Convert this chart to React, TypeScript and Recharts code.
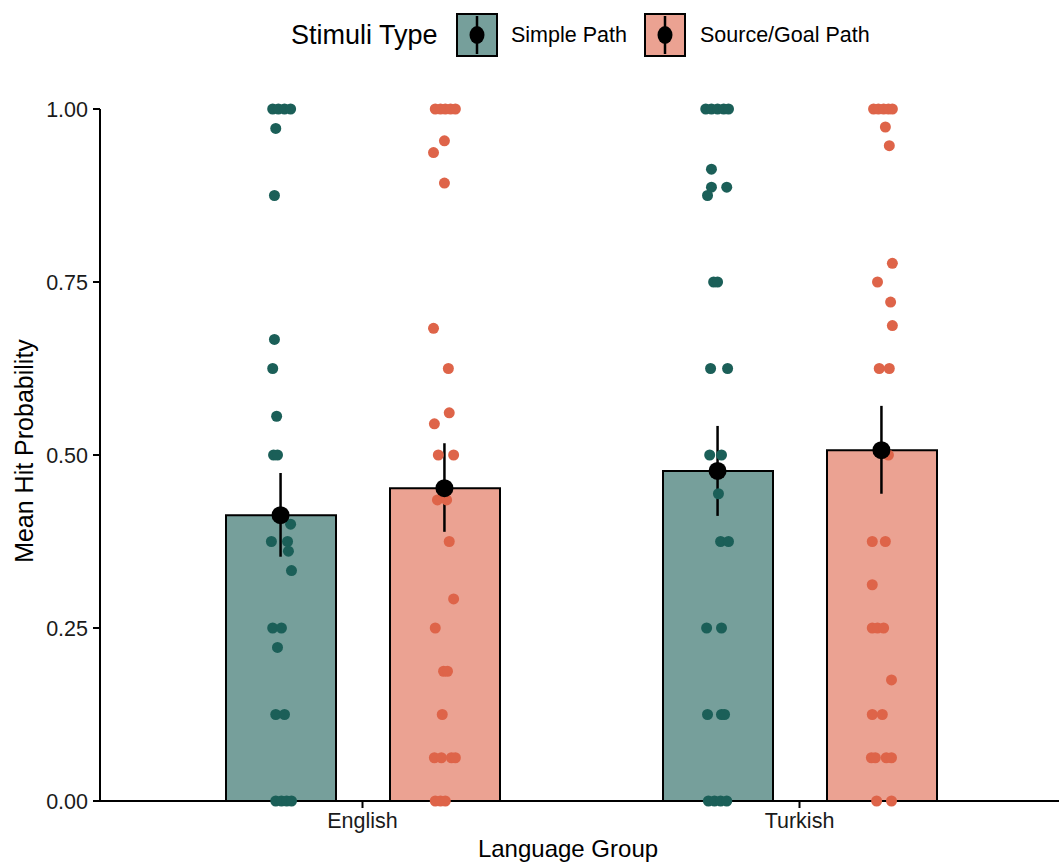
import React from 'react';
import { ComposedChart, Bar, Scatter, XAxis, YAxis, ErrorBar, Label } from 'recharts';

const languageGroups = ['English', 'Turkish'];
const stimuliTypes = ['Simple Path', 'Source/Goal Path'];

// mean hit probability and error bar ends, per language group
const simpleMeans = [0.413, 0.477];
const simpleLow = [0.353, 0.412];
const simpleHigh = [0.474, 0.542];
const sourceGoalMeans = [0.452, 0.507];
const sourceGoalLow = [0.389, 0.444];
const sourceGoalHigh = [0.517, 0.571];

const yTicks = [0, 0.25, 0.5, 0.75, 1];

// participant points as [jitter, hit probability]
const englishSimplePoints = [
  [-0.018, 1], [-0.005, 1], [0.009, 1], [0.023, 1],
  [-0.011, 0.972], [-0.014, 0.875], [-0.014, 0.667], [-0.018, 0.625], [-0.009, 0.556],
  [-0.016, 0.5], [-0.007, 0.5], [0.023, 0.4], [-0.021, 0.375], [0.016, 0.375],
  [0.018, 0.361], [0.025, 0.333], [-0.018, 0.25], [0.002, 0.25], [-0.007, 0.222],
  [-0.011, 0.125], [0.009, 0.125],
  [-0.011, 0], [0.002, 0], [0.014, 0], [0.025, 0],
];
const englishSourceGoalPoints = [
  [-0.021, 1], [-0.009, 1], [0.002, 1], [0.014, 1], [0.025, 1],
  [0, 0.954], [-0.025, 0.937], [0, 0.893], [-0.025, 0.683], [0.009, 0.625],
  [0.011, 0.561], [-0.023, 0.545], [-0.014, 0.5], [0.021, 0.5], [-0.016, 0.435],
  [0.005, 0.435], [0.011, 0.375], [0.021, 0.292], [-0.021, 0.25],
  [-0.002, 0.1875], [0.007, 0.1875], [-0.005, 0.125],
  [-0.023, 0.0625], [-0.007, 0.0625], [0.016, 0.0625], [0.025, 0.0625],
  [-0.021, 0], [-0.009, 0], [0.002, 0],
];
const turkishSimplePoints = [
  [-0.027, 1], [-0.014, 1], [0, 1], [0.014, 1], [0.025, 1],
  [-0.014, 0.913], [-0.014, 0.887], [0.021, 0.887], [-0.023, 0.875],
  [-0.009, 0.75], [0, 0.75], [-0.016, 0.625], [0.023, 0.625],
  [-0.018, 0.5], [0.009, 0.5], [0.002, 0.444], [0.007, 0.375], [0.025, 0.375],
  [-0.025, 0.25], [0.009, 0.25], [-0.023, 0.125], [0.009, 0.125], [0.016, 0.125],
  [-0.021, 0], [-0.007, 0], [0.007, 0], [0.021, 0],
];
const turkishSourceGoalPoints = [
  [-0.018, 1], [-0.007, 1], [0.005, 1], [0.016, 1], [0.025, 1],
  [0.009, 0.974], [0.018, 0.947], [0.025, 0.777], [-0.009, 0.75], [0.021, 0.721],
  [0.025, 0.687], [-0.005, 0.625], [0.018, 0.625], [0.016, 0.5],
  [-0.021, 0.375], [0.009, 0.375], [-0.021, 0.3125],
  [-0.021, 0.25], [-0.009, 0.25], [0.005, 0.25], [0.023, 0.175],
  [-0.021, 0.125], [0.002, 0.125],
  [-0.023, 0.0625], [-0.014, 0.0625], [0.011, 0.0625], [0.023, 0.0625],
  [-0.011, 0], [0.023, 0],
];

const FONT = '"Liberation Sans", Arial, Helvetica, sans-serif';
const TEAL = '#1B5F58';
const TEAL_FILL = '#769F9B';
const SALMON = '#DE6449';
const SALMON_FILL = '#EBA292';
const DODGE = 0.1875;
const PAD = { left: 44, right: 41 };

const barData = languageGroups.map((group, i) => ({
  group,
  simple: simpleMeans[i],
  sourceGoal: sourceGoalMeans[i],
}));

const toPoints = (pts: number[][], groupIndex: number, side: number) =>
  pts.map(([jitter, y]) => ({ x: groupIndex + 1 + side * DODGE + jitter, y }));

const simplePoints = [
  ...toPoints(englishSimplePoints, 0, -1),
  ...toPoints(turkishSimplePoints, 1, -1),
];
const sourceGoalPoints = [
  ...toPoints(englishSourceGoalPoints, 0, 1),
  ...toPoints(turkishSourceGoalPoints, 1, 1),
];

const meanPoints = languageGroups.flatMap((_, i) => [
  { x: i + 1 - DODGE, y: simpleMeans[i], err: [simpleMeans[i] - simpleLow[i], simpleHigh[i] - simpleMeans[i]] },
  { x: i + 1 + DODGE, y: sourceGoalMeans[i], err: [sourceGoalMeans[i] - sourceGoalLow[i], sourceGoalHigh[i] - sourceGoalMeans[i]] },
]);

const dot = (color: string, r: number) => (props: any) =>
  <circle cx={props.cx} cy={props.cy} r={r} fill={color} />;

const LegendKey = ({ x, fill }: { x: number; fill: string }) => (
  <g>
    <rect x={x} y={14} width={40} height={42} fill={fill} stroke="#000" strokeWidth={2} />
    <line x1={x + 20} x2={x + 20} y1={16} y2={54} stroke="#000" strokeWidth={2.5} />
    <ellipse cx={x + 20} cy={35} rx={7.5} ry={9} fill="#000" />
  </g>
);

const ChartLegend = () => (
  <svg width={1059} height={70} style={{ position: 'absolute', left: 0, top: 0, fontFamily: FONT }}>
    <text x={291} y={35} fontSize={27} dominantBaseline="central" fill="#000">Stimuli Type</text>
    <LegendKey x={457} fill={TEAL_FILL} />
    <text x={511} y={35} fontSize={21.5} dominantBaseline="central" fill="#000">{stimuliTypes[0]}</text>
    <LegendKey x={645} fill={SALMON_FILL} />
    <text x={700} y={35} fontSize={21.5} dominantBaseline="central" fill="#000">{stimuliTypes[1]}</text>
  </svg>
);

export default function App() {
  return (
    <div style={{ position: 'absolute', left: 0, top: 0, width: 1059, height: 867, background: '#fff', fontFamily: FONT }}>
      <ComposedChart
        width={1059}
        height={867}
        data={barData}
        barGap={54}
        margin={{ top: 109, right: 0, left: 0, bottom: 0 }}
      >
        <XAxis
          xAxisId="cat"
          dataKey="group"
          type="category"
          padding={PAD}
          height={66}
          axisLine={{ stroke: '#000', strokeWidth: 2 }}
          tickLine={{ stroke: '#000', strokeWidth: 2 }}
          tickSize={7}
          tickMargin={5}
          tick={{ fill: '#1a1a1a', fontSize: 21.5, fontFamily: FONT }}
        >
          <Label
            content={() => (
              <text x={568} y={857} textAnchor="middle" fontSize={24} fontFamily={FONT} fill="#000">
                Language Group
              </text>
            )}
          />
        </XAxis>
        <XAxis
          xAxisId="num"
          dataKey="x"
          type="number"
          domain={[0.5, 2.5]}
          allowDataOverflow
          padding={PAD}
          hide
        />
        <YAxis
          type="number"
          domain={[0, 1]}
          ticks={yTicks}
          width={100}
          tickFormatter={(v: number) => v.toFixed(2)}
          axisLine={{ stroke: '#000', strokeWidth: 2 }}
          tickLine={{ stroke: '#000', strokeWidth: 2 }}
          tickSize={7}
          tickMargin={5}
          tick={{ fill: '#1a1a1a', fontSize: 21.5, fontFamily: FONT }}
        >
          <Label
            content={() => (
              <text
                x={24}
                y={451}
                transform="rotate(-90, 24, 451)"
                textAnchor="middle"
                dominantBaseline="central"
                fontSize={25}
                fontFamily={FONT}
                fill="#000"
              >
                Mean Hit Probability
              </text>
            )}
          />
        </YAxis>
        <Bar xAxisId="cat" dataKey="simple" barSize={110} fill={TEAL_FILL} stroke="#000" strokeWidth={2} isAnimationActive={false} />
        <Bar xAxisId="cat" dataKey="sourceGoal" barSize={110} fill={SALMON_FILL} stroke="#000" strokeWidth={2} isAnimationActive={false} />
        <Scatter xAxisId="num" data={simplePoints} dataKey="y" shape={dot(TEAL, 5.5)} isAnimationActive={false} />
        <Scatter xAxisId="num" data={sourceGoalPoints} dataKey="y" shape={dot(SALMON, 5.5)} isAnimationActive={false} />
        <Scatter xAxisId="num" data={meanPoints} dataKey="y" shape={dot('#000', 9)} isAnimationActive={false}>
          <ErrorBar dataKey="err" direction="y" width={0} stroke="#000" strokeWidth={2.5} isAnimationActive={false} />
        </Scatter>
      </ComposedChart>
      <ChartLegend />
    </div>
  );
}
